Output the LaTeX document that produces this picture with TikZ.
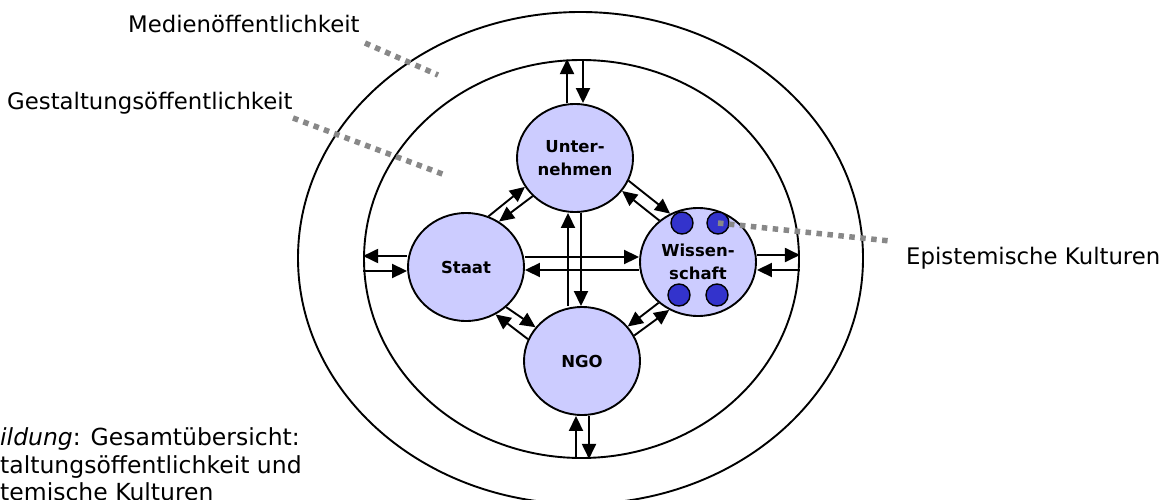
\documentclass[tikz,border=0pt]{standalone}
\usepackage{fontspec}
\setmainfont{DejaVu Sans}
\usetikzlibrary{shapes.geometric,arrows.meta,calc}
\definecolor{nodefill}{HTML}{CCCCFF}
\definecolor{dotfill}{HTML}{3333CC}
\definecolor{leadgray}{HTML}{888888}
\begin{document}
\begin{tikzpicture}[x=1pt,y=-1pt,
  ring/.style={draw, line width=1.9pt, ellipse, inner sep=0},
  actor/.style={draw, line width=1.9pt, ellipse, fill=nodefill, minimum width=116pt, minimum height=108pt, inner sep=0, font=\fontsize{16.5}{23.5}\selectfont\bfseries, align=center},
  culture/.style={draw, line width=1.4pt, circle, fill=dotfill, minimum size=22pt, inner sep=0},
  flow/.style={line width=1.9pt, -{Triangle[length=15pt,width=14pt]}},
  leader/.style={leadgray, line width=5.5pt, dash pattern=on 5.5pt off 5.5pt},
  lbl/.style={inner sep=0, anchor=base west, font=\fontsize{22.8}{27}\selectfont},
  captxt/.style={inner sep=0, anchor=base west, font=\fontsize{23.5}{28}\selectfont}]
\useasboundingbox (0,0) rectangle (1174,500);
\clip (0,0) rectangle (1174,500);

% rings
\node[ring, minimum width=565pt, minimum height=492pt] (outer) at (580.5,258) {};
\node[ring, minimum width=435pt, minimum height=398pt] (inner) at (581.5,259) {};

% actors
\node[actor] (untern) at (575,158) {Unter-\\nehmen};
\node[actor] (staat) at (466,267) {Staat};
\node[actor] (wiss) at (698,262) {Wissen-\\schaft};
\node[actor] (ngo) at (582,361) {NGO};

% epistemic cultures
\node[culture] (k1) at (682,223) {};
\node[culture] (k2) at (718,223) {};
\node[culture] (k3) at (679,295) {};
\node[culture] (k4) at (717,295) {};

% top
\coordinate (u1) at ([xshift=-8pt]untern.north);
\coordinate (u2) at ([xshift=8pt]untern.north);
\draw[flow] (u1) -- (u1 |- inner.north);
\draw[flow] (u2 |- inner.north) -- (u2);
% bottom
\coordinate (n1) at ([xshift=-6pt]ngo.south);
\coordinate (n2) at ([xshift=7pt]ngo.south);
\draw[flow] (n1 |- inner.south) -- (n1);
\draw[flow] (n2) -- (n2 |- inner.south);
% left
\coordinate (s1) at ([yshift=11pt]staat.west);
\coordinate (s2) at ([yshift=-4pt]staat.west);
\draw[flow] (s1) -- (s1 -| inner.west);
\draw[flow] (s2 -| inner.west) -- (s2);
% right
\coordinate (w1) at ([yshift=7pt]wiss.east);
\coordinate (w2) at ([yshift=-8pt]wiss.east);
\draw[flow] (w1) -- (w1 -| inner.east);
\draw[flow] (w2 -| inner.east) -- (w2);
% centre horizontal
\coordinate (h1) at ([yshift=10pt]staat.east);
\coordinate (h2) at ([yshift=-8pt]wiss.west);
\draw[flow] (h1) -- (h1 -| wiss.west);
\draw[flow] (h2) -- (h2 -| staat.east);
% centre vertical
\coordinate (v1) at ([xshift=-7pt]untern.south);
\coordinate (v2) at ([xshift=6pt]untern.south);
\draw[flow] (v1 |- ngo.north) -- (v1);
\draw[flow] (v2) -- (v2 |- ngo.north);
% diagonals
\draw[flow] (staat.66) -- (untern.210);
\draw[flow] (untern.222) -- (staat.54);
\draw[flow] (untern.337) -- (wiss.120);
\draw[flow] (wiss.133) -- (untern.325);
\draw[flow] (staat.315) -- (ngo.144);
\draw[flow] (ngo.158) -- (staat.302);
\draw[flow] (wiss.226) -- (ngo.37);
\draw[flow] (ngo.26) -- (wiss.239);

% labels
\node[lbl] (medien) at (128,33) {Medienöffentlichkeit};
\node[lbl] (gestalt) at (7,110) {Gestaltungsöffentlichkeit};
\node[lbl] (episteme) at (906,264) {Epistemische Kulturen};

% leaders
\coordinate (mA) at (365,43);
\coordinate (mB) at (438,75);
\draw[leader] (mA) -- (mB);
\coordinate (gA) at (293,118);
\coordinate (gB) at (445,175);
\draw[leader] (gA) -- (gB);
\coordinate (eB) at (890,241);
\draw[leader] (k2.center) -- (eB);

% caption
\node[captxt] (cap1) at (0,445) {\textit{ildung}: Gesamtübersicht:};
\node[captxt] (cap2) at (0,473) {taltungsöffentlichkeit und};
\node[captxt] (cap3) at (0,500) {temische Kulturen};
\end{tikzpicture}
\end{document}
